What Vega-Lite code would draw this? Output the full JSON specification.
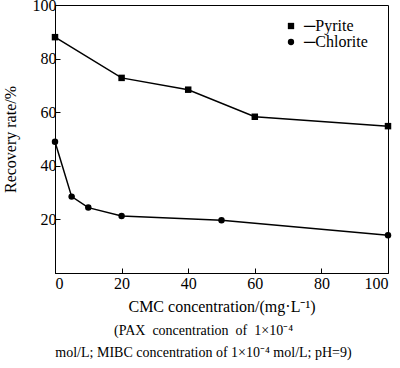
{
  "$schema": "https://vega.github.io/schema/vega-lite/v6.json",
  "width": 333,
  "height": 268,
  "autosize": {"type": "none"},
  "padding": {"left": 55, "top": 5, "right": 12, "bottom": 95},
  "background": "white",
  "config": {
    "font": "Liberation Serif",
    "view": {"stroke": "black", "strokeWidth": 1},
    "axis": {
      "domainColor": "black", "tickColor": "black", "labelColor": "black", "titleColor": "black",
      "labelFont": "Liberation Serif", "titleFont": "Liberation Serif",
      "labelFontSize": 16, "titleFontSize": 16, "titleFontWeight": "normal",
      "grid": false, "tickSize": -5, "labelPadding": 4
    }
  },
  "title": {
    "text": "(PAX\u00a0\u00a0concentration\u00a0\u00a0of\u00a0\u00a01×10⁻⁴\u00a0\u00a0\u00a0\u00a0\u00a0\u00a0",
    "subtitle": "mol/L; MIBC concentration of 1×10⁻⁴ mol/L; pH=9)",
    "orient": "bottom",
    "anchor": "middle",
    "font": "Liberation Serif",
    "fontSize": 14,
    "fontWeight": "normal",
    "color": "black",
    "subtitleFont": "Liberation Serif",
    "subtitleFontSize": 14,
    "subtitleColor": "black",
    "subtitlePadding": 8,
    "dx": -18,
    "offset": 10
  },
  "data": {
    "values": [
      {"series": "Pyrite", "cmc": 0, "recovery": 88.0},
      {"series": "Pyrite", "cmc": 20, "recovery": 72.8},
      {"series": "Pyrite", "cmc": 40, "recovery": 68.4},
      {"series": "Pyrite", "cmc": 60, "recovery": 58.3},
      {"series": "Pyrite", "cmc": 100, "recovery": 54.8},
      {"series": "Chlorite", "cmc": 0, "recovery": 49.0},
      {"series": "Chlorite", "cmc": 5, "recovery": 28.5},
      {"series": "Chlorite", "cmc": 10, "recovery": 24.4},
      {"series": "Chlorite", "cmc": 20, "recovery": 21.3},
      {"series": "Chlorite", "cmc": 50, "recovery": 19.7},
      {"series": "Chlorite", "cmc": 100, "recovery": 14.1}
    ]
  },
  "encoding": {
    "x": {
      "field": "cmc", "type": "quantitative",
      "scale": {"domain": [0, 100], "nice": false},
      "axis": {"values": [0, 20, 40, 60, 80, 100], "title": "CMC concentration/(mg·L⁻¹)", "titlePadding": 7, "labelPadding": 7}
    },
    "y": {
      "field": "recovery", "type": "quantitative",
      "scale": {"domain": [0, 100], "nice": false},
      "axis": {"values": [20, 40, 60, 80, 100], "title": "Recovery rate/%", "titlePadding": 14}
    }
  },
  "layer": [
    {
      "mark": {"type": "line", "color": "black", "strokeWidth": 1.5},
      "encoding": {"detail": {"field": "series"}}
    },
    {
      "mark": {"type": "point", "filled": true, "color": "black", "opacity": 1, "size": 42},
      "encoding": {
        "shape": {
          "field": "series", "type": "nominal",
          "scale": {"domain": ["Pyrite", "Chlorite"], "range": ["square", "circle"]},
          "legend": {
            "title": null,
            "orient": "none",
            "legendX": 228,
            "legendY": 13,
            "labelExpr": "'─' + datum.label",
            "labelFont": "Liberation Serif",
            "labelFontSize": 16,
            "labelColor": "black",
            "labelOffset": 5,
            "symbolSize": 40,
            "symbolFillColor": "black",
            "symbolStrokeWidth": 0,
            "rowPadding": 0
          }
        }
      }
    }
  ]
}
